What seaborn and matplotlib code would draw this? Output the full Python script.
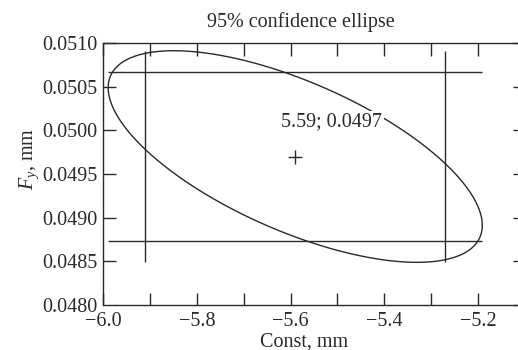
import numpy as np
import pandas as pd
import matplotlib
matplotlib.use("Agg")
import matplotlib.pyplot as plt
from matplotlib.ticker import MultipleLocator, FixedLocator
import seaborn as sns

# Estimated parameters (Const, Fy) and their spread
center_x = -5.59
center_y = 0.0497
sd_x = 0.163
sd_y = 0.000495
rho = -0.65

x_limits = [-6.0, -5.1]
y_limits = [0.0480, 0.0510]
x_major_ticks = [-6.0, -5.8, -5.6, -5.4, -5.2]
y_ticks = [0.0480, 0.0485, 0.0490, 0.0495, 0.0500, 0.0505, 0.0510]

title_text = "95% confidence ellipse"
x_label = "Const, mm"
y_label = "$F_y$, mm"

# 95% quantiles: two-dimensional (chi-square, 2 dof) and one-dimensional
k_joint = np.sqrt(5.991)
k_marg = 1.96

sns.set_theme(style="ticks")
plt.rcParams["font.family"] = ["Liberation Serif", "DejaVu Serif"]
plt.rcParams["mathtext.fontset"] = "custom"
plt.rcParams["mathtext.rm"] = "Liberation Serif"
plt.rcParams["mathtext.it"] = "Liberation Serif:italic"
plt.rcParams["axes.unicode_minus"] = True

ink = "#2a2a2a"
fs = 14.5

# Ellipse outline from the covariance matrix
cov = np.array([[sd_x ** 2, rho * sd_x * sd_y],
                [rho * sd_x * sd_y, sd_y ** 2]])
L = np.linalg.cholesky(cov)
t = np.linspace(0, 2 * np.pi, 400)
pts = (L @ np.vstack([np.cos(t), np.sin(t)])) * k_joint
ellipse = pd.DataFrame({"x": center_x + pts[0], "y": center_y + pts[1]})

x_lo, x_hi = ellipse["x"].min(), ellipse["x"].max()
y_lo, y_hi = ellipse["y"].min(), ellipse["y"].max()

fig = plt.figure(figsize=(5.18, 3.5), dpi=100)
ax = fig.add_axes([103 / 518, 45 / 350, 422 / 518, 262 / 350])

sns.lineplot(data=ellipse, x="x", y="y", sort=False, estimator=None,
             color=ink, lw=1.0, ax=ax, zorder=2)

# Marginal 95% intervals
ax.hlines([center_y - k_marg * sd_y, center_y + k_marg * sd_y], x_lo, x_hi,
          color=ink, lw=1.0, zorder=2)
ax.vlines([center_x - k_marg * sd_x, center_x + k_marg * sd_x], y_lo, y_hi,
          color=ink, lw=1.0, zorder=2)

sns.scatterplot(x=[center_x], y=[center_y], marker="+", s=110,
                color=ink, linewidth=1.0, ax=ax, zorder=3)

ax.text(-5.404, 0.050094, f"{abs(center_x):.2f}; {center_y:.4f}",
        ha="right", va="center", fontsize=fs, color=ink, zorder=4,
        bbox=dict(facecolor="white", edgecolor="none", pad=1.5))

ax.set_xlim(*x_limits)
ax.set_ylim(*y_limits)
ax.xaxis.set_major_locator(FixedLocator(x_major_ticks))
ax.xaxis.set_minor_locator(MultipleLocator(0.1))
ax.yaxis.set_major_locator(FixedLocator(y_ticks))
ax.set_xticklabels([f"{v:.1f}".replace("-", "\u2212") for v in x_major_ticks])
ax.set_yticklabels([f"{v:.4f}" for v in y_ticks])

ax.tick_params(which="both", direction="in", length=9, width=1.0, color=ink,
               top=True, right=True, labelsize=fs, labelcolor=ink)
ax.tick_params(axis="x", which="both", pad=5)
ax.tick_params(axis="y", which="both", pad=4)

for side, sp in ax.spines.items():
    sp.set_visible(True)
    sp.set_color(ink)
    sp.set_linewidth(1.0)
ax.spines["bottom"].set_bounds(-5.972, x_limits[1])

ax.set_xlabel(x_label, fontsize=fs, color=ink)
ax.set_ylabel(y_label, fontsize=fs, color=ink)
ax.xaxis.set_label_coords(0.4765, -0.105)
ax.yaxis.set_label_coords(-0.147, 0.557)
ax.set_title(title_text, fontsize=fs, color=ink, x=0.469, pad=11.5)

fig.savefig("out.png", dpi=100)
